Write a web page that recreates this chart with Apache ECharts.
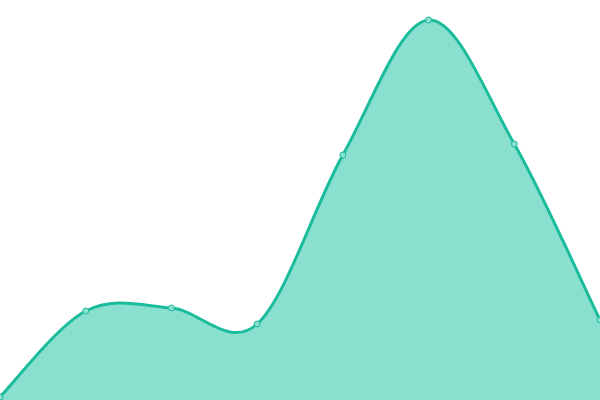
<!DOCTYPE html>
<html>
<head>
<meta charset="utf-8">
<script src="https://cdn.jsdelivr.net/npm/echarts@6/dist/echarts.min.js"></script>
<style>html,body{margin:0;padding:0;background:#fff}#c{width:600px;height:400px}</style>
</head>
<body>
<div id="c"></div>
<script>
const categories = ['1', '2', '3', '4', '5', '6', '7', '8'];
const values = [3, 89, 92, 76, 245, 380, 256, 80];

function splinePath(pts, bottom) {
  // uniform Catmull-Rom spline through the points, as cubic Beziers
  let d = 'M' + pts[0][0] + ',' + pts[0][1];
  for (let i = 0; i < pts.length - 1; i++) {
    const p0 = pts[i - 1] || pts[i];
    const p1 = pts[i];
    const p2 = pts[i + 1];
    const p3 = pts[i + 2] || pts[i + 1];
    const c1x = p1[0] + (p2[0] - p0[0]) / 6;
    const c1y = p1[1] + (p2[1] - p0[1]) / 6;
    const c2x = p2[0] - (p3[0] - p1[0]) / 6;
    const c2y = p2[1] - (p3[1] - p1[1]) / 6;
    d += ' C' + c1x + ',' + c1y + ' ' + c2x + ',' + c2y + ' ' + p2[0] + ',' + p2[1];
  }
  if (bottom != null) {
    const last = pts[pts.length - 1];
    d += ' L' + last[0] + ',' + bottom + ' L' + pts[0][0] + ',' + bottom + ' Z';
  }
  return d;
}

const chart = echarts.init(document.getElementById('c'));
chart.setOption({
  animation: false,
  grid: { left: 0, right: 0, top: 0, bottom: 0 },
  xAxis: { type: 'category', data: categories, boundaryGap: false, show: false },
  yAxis: { type: 'value', min: 0, max: 400, show: false },
  series: [{
    type: 'custom',
    data: values.map((v, i) => [i, v]),
    z: 1,
    renderItem: function (params, api) {
      if (params.dataIndex !== 0) return;
      const pts = values.map((v, i) => api.coord([i, v]));
      const bottom = api.coord([0, 0])[1];
      return {
        type: 'group',
        children: [{
          type: 'path',
          shape: { pathData: splinePath(pts, bottom) },
          style: { fill: '#8ae0cf', stroke: null }
        }, {
          type: 'path',
          shape: { pathData: splinePath(pts, null) },
          style: { fill: null, stroke: '#1abc9c', lineWidth: 3 }
        }]
      };
    }
  }, {
    type: 'line',
    data: values,
    z: 3,
    symbol: 'circle',
    symbolSize: 6,
    lineStyle: { width: 0, opacity: 0 },
    itemStyle: { color: '#8ce0cf', borderColor: '#1abc9c', borderWidth: 1 }
  }]
});
</script>
</body>
</html>
